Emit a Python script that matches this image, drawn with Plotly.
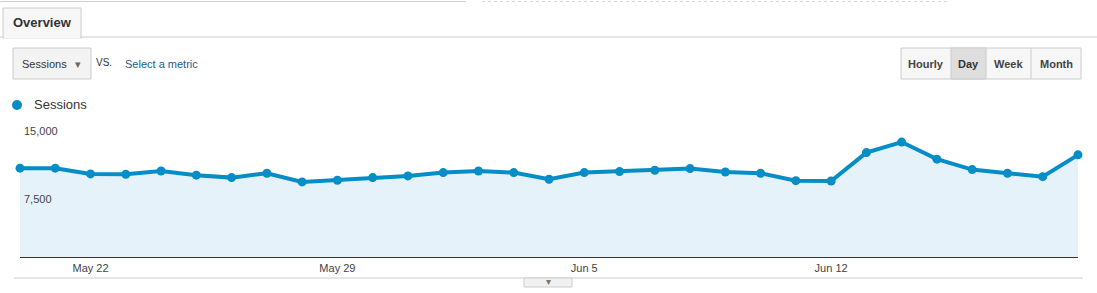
import plotly.graph_objects as go
import pandas as pd

# ---------------- data ----------------
dates = pd.date_range("2016-05-20", "2016-06-19", freq="D")
sessions = [9870, 9870, 9230, 9200, 9560, 9090, 8820, 9310, 8340, 8530,
            8820, 9010, 9380, 9560, 9380, 8640, 9380, 9490, 9640, 9820,
            9450, 9310, 8480, 8450, 11600, 12770, 10870, 9710, 9310, 8930,
            11350]
tick_dates = ["2016-05-22", "2016-05-29", "2016-06-05", "2016-06-12"]
tick_text = ["May 22", "May 29", "Jun 5", "Jun 12"]
y_ticks = [7500, 15000]
y_tick_text = ["7,500", "15,000"]
series_name = "Sessions"

# ---------------- geometry helpers (page pixels -> paper) ----------------
W_PAGE, H_PAGE = 1097, 293
L, R, T, B = 20, 1078, 122, 257
PW, PH = R - L, B - T


def px(x):
    return (x - L) / PW


def py(y):
    return (B - y) / PH


FONT = "Liberation Sans, Arial, sans-serif"
BLUE = "#058dc7"

fig = go.Figure()
fig.add_trace(go.Scatter(
    x=dates, y=sessions, mode="lines+markers", name=series_name,
    line=dict(color=BLUE, width=4),
    marker=dict(color=BLUE, size=9),
    fill="tozeroy", fillcolor="#e6f2f9",
    cliponaxis=False, hoverinfo="x+y", showlegend=False,
))

shapes = []
annotations = []


def rect(x0, y0, x1, y1, fill, line="#cccccc", lw=1, layer="above"):
    shapes.append(dict(type="rect", xref="paper", yref="paper",
                       x0=px(x0), x1=px(x1), y0=py(y1), y1=py(y0),
                       fillcolor=fill, line=dict(color=line, width=lw), layer=layer))


def hline(x0, x1, y, color="#cccccc", lw=1, dash="solid"):
    shapes.append(dict(type="line", xref="paper", yref="paper",
                       x0=px(x0), x1=px(x1), y0=py(y), y1=py(y),
                       line=dict(color=color, width=lw, dash=dash)))


def vline(x, y0, y1, color="#cccccc", lw=1):
    shapes.append(dict(type="line", xref="paper", yref="paper",
                       x0=px(x), x1=px(x), y0=py(y0), y1=py(y1),
                       line=dict(color=color, width=lw)))


def text(x, y, s, size=11, color="#333333", bold=False, xanchor="left"):
    if bold:
        s = "<b>" + s + "</b>"
    annotations.append(dict(xref="paper", yref="paper", x=px(x), y=py(y),
                            text=s, showarrow=False, xanchor=xanchor, yanchor="middle",
                            font=dict(family=FONT, size=size, color=color)))


# top cut-off boxes
hline(0, 466, 1.5, color="#cfcfcf")
hline(482, 950, 1.5, color="#d6d6d6", dash="dot")

# tab "Overview"
rect(3, 8, 81, 38, "#f7f7f7", line="#cccccc")
hline(0, 3, 37, color="#cccccc")
hline(81, 1097, 37, color="#cccccc")
hline(4, 80, 37.5, color="#f7f7f7", lw=2)
text(42, 22, "Overview", size=13, color="#333333", bold=True, xanchor="center")

# metric dropdown
rect(13, 48, 91, 79, "#f3f3f3", line="#cccccc")
text(20, 64, "Sessions", size=11, color="#333333")
text(78, 64, "▾", size=11, color="#666666", xanchor="center")
text(94, 63, "VS.", size=10, color="#333333")
text(123, 64, "Select a metric", size=11, color="#1a5d8e")

# granularity buttons
rect(901, 48, 1081, 79, "#f7f7f7", line="#cccccc")
rect(951, 48, 986, 79, "#dedede", line="#cccccc")
vline(1031, 48, 79, color="#cccccc")
text(926, 64, "Hourly", size=11, color="#444444", bold=True, xanchor="center")
text(968.5, 64, "Day", size=11, color="#333333", bold=True, xanchor="center")
text(1008.5, 64, "Week", size=11, color="#444444", bold=True, xanchor="center")
text(1056, 64, "Month", size=11, color="#444444", bold=True, xanchor="center")

# legend
shapes.append(dict(type="circle", xref="paper", yref="paper",
                   x0=px(12), x1=px(22), y0=py(110), y1=py(100),
                   fillcolor=BLUE, line=dict(color=BLUE, width=0)))
text(32, 105, series_name, size=13, color="#333333")

# bottom line and handle
hline(14, 1083, 278, color="#cccccc")
rect(524, 278, 572, 287, "#f0f0f0", line="#cccccc")
text(548, 281.5, "▾", size=10, color="#777777", xanchor="center")

# y tick labels placed inside the plot, just below their gridlines
for v, t in zip(y_ticks, y_tick_text):
    annotations.append(dict(xref="paper", yref="y", x=px(22), y=v, yshift=-1,
                            text=t, showarrow=False, xanchor="left", yanchor="top",
                            font=dict(family=FONT, size=11, color="#444444")))

fig.update_layout(
    width=W_PAGE, height=H_PAGE,
    margin=dict(l=L, r=W_PAGE - R, t=T, b=H_PAGE - B, pad=0),
    paper_bgcolor="white", plot_bgcolor="white",
    font=dict(family=FONT, size=11, color="#444444"),
    shapes=shapes, annotations=annotations,
    xaxis=dict(type="date", range=[dates[0], dates[-1]],
               tickvals=tick_dates, ticktext=tick_text,
               showgrid=False, zeroline=False, showline=False, ticks="",
               ticklabelstandoff=3,
               tickfont=dict(family=FONT, size=11, color="#444444"),
               fixedrange=True),
    yaxis=dict(range=[0, 15000], tickvals=y_ticks, showticklabels=False,
               showgrid=True, gridcolor="#e8e8e8", gridwidth=1,
               zeroline=True, zerolinecolor="#333333", zerolinewidth=1.5,
               showline=False, ticks="", fixedrange=True),
    hovermode="closest",
)

fig.write_html("out.html")
